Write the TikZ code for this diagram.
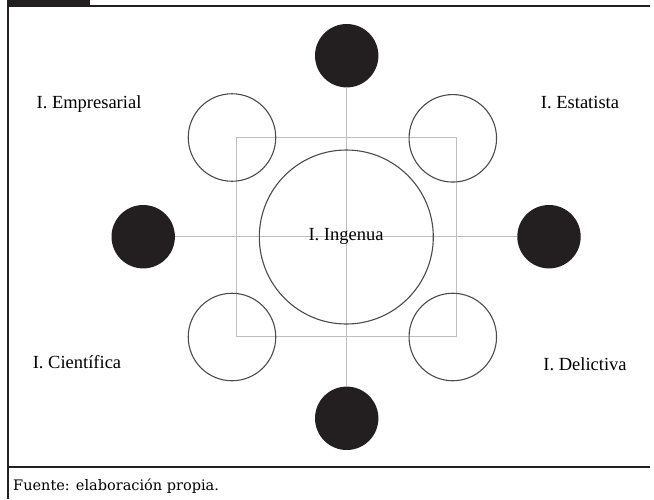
\documentclass[tikz,border=0pt]{standalone}
\usepackage{fontspec}
\setmainfont{Liberation Serif}
\newfontfamily\footfont{DejaVu Serif}
\definecolor{ink}{RGB}{35,31,32}
\definecolor{guide}{RGB}{190,190,190}
\definecolor{ring}{RGB}{75,75,75}
\begin{document}
\begin{tikzpicture}[x=1pt,y=-1pt,
  blackdot/.style={circle,fill=ink,draw=none,minimum size=63.4pt,inner sep=0pt},
  whitering/.style={circle,draw=ring,line width=1.1pt,minimum size=87.5pt,inner sep=0pt},
  bigring/.style={circle,draw=ring,line width=1.1pt,minimum size=174pt,inner sep=0pt},
  guideline/.style={draw=guide,line width=1.1pt},
  lbl/.style={font=\fontsize{18.5}{22}\selectfont,inner sep=0pt,anchor=base},
  frameline/.style={draw=ink,line width=2pt}]
\useasboundingbox (0,0) rectangle (654,499);
% frame
\fill[ink] (7,0) rectangle (90,6.5);
\coordinate (fTL) at (8,6);
\coordinate (fTR) at (650,6);
\coordinate (fBL) at (8,499);
\coordinate (fML) at (8,467.3);
\coordinate (fMR) at (649.5,467.3);
\draw[frameline] (fTL) -- (fTR);
\draw[frameline] (8,0) -- (fBL);
\draw[frameline] (fML) -- (fMR);
% guides
\node[blackdot] (btop) at (346.7,55.7) {};
\node[blackdot] (bbot) at (346.7,418.3) {};
\node[blackdot] (bleft) at (143.2,236.7) {};
\node[blackdot] (bright) at (549,236.7) {};
\coordinate (sq1) at (236.7,137.3);
\coordinate (sq2) at (456.5,336.7);
\draw[guideline] (sq1) rectangle (sq2);
\draw[guideline] (btop) -- (bbot);
\draw[guideline] (bleft) -- (bright);
% rings
\node[whitering] (wtl) at (232,137.5) {};
\node[whitering] (wtr) at (452.8,138.3) {};
\node[whitering] (wbl) at (232,337) {};
\node[whitering] (wbr) at (452.8,337) {};
\node[bigring] (center) at (346.3,237) {};
% labels
\node[lbl] (lingenua) at (346,240.7) {I. Ingenua};
\node[lbl] (lemp) at (89,108.3) {I. Empresarial};
\node[lbl] (lest) at (580,108.3) {I. Estatista};
\node[lbl] (lcie) at (77,368) {I. Científica};
\node[lbl] (ldel) at (585,370) {I. Delictiva};
\node[font=\footfont\fontsize{14.5}{17}\selectfont,inner sep=0pt,anchor=base west] (foot) at (13,490) {Fuente: elaboración propia.};
\end{tikzpicture}
\end{document}
